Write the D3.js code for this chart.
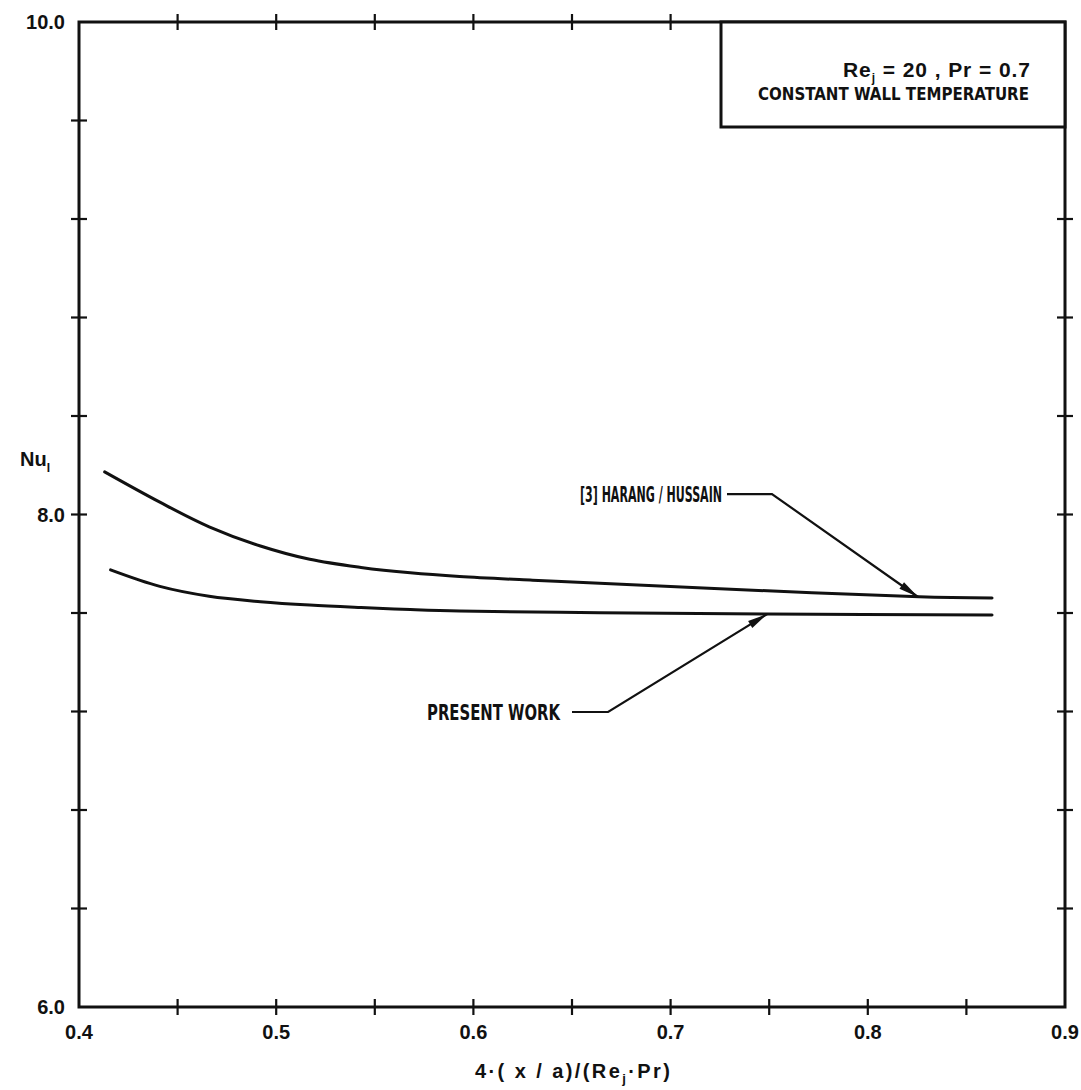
<!DOCTYPE html>
<html>
<head>
<meta charset="utf-8">
<script src="https://cdn.jsdelivr.net/npm/d3@7"></script>
<style>
  body { margin: 0; background: #fff; }
  svg text { font-family: "Liberation Sans", Arial, sans-serif; font-weight: bold; fill: #111; }
  .cond { font-family: "DejaVu Sans Condensed", "Liberation Sans Narrow", sans-serif; }
</style>
</head>
<body>
<svg id="chart"></svg>
<script>
// curve values
const xHarang = [0.413, 0.441, 0.466, 0.492, 0.517, 0.543, 0.568, 0.593, 0.630, 0.664, 0.749, 0.826, 0.863];
const yHarang = [8.173, 8.050, 7.950, 7.872, 7.818, 7.785, 7.763, 7.748, 7.733, 7.721, 7.690, 7.666, 7.661];
const xPresent = [0.416, 0.441, 0.466, 0.492, 0.517, 0.543, 0.568, 0.593, 0.664, 0.749, 0.863];
const yPresent = [7.775, 7.708, 7.668, 7.646, 7.632, 7.622, 7.614, 7.608, 7.601, 7.596, 7.592];
const xTickLabels = [0.4, 0.5, 0.6, 0.7, 0.8, 0.9];
const yTickLabels = [6.0, 8.0, 10.0];

const width = 1081, height = 1090;
const x = d3.scaleLinear().domain([0.4, 0.9]).range([79, 1065]);
const y = d3.scaleLinear().domain([6, 10]).range([1007, 22]);

const svg = d3.select("#chart")
  .attr("width", width)
  .attr("height", height)
  .attr("viewBox", [0, 0, width, height]);

// legend box in the top right corner (covers some ticks)
const boxL = 721, boxB = 127;

const xMinor = d3.range(0.45, 0.9, 0.05).map(v => +v.toFixed(2));
const yMinor = d3.range(6.4, 10, 0.4).map(v => +v.toFixed(1));
const tk = 8;

const ticks = svg.append("g").attr("stroke", "#111").attr("stroke-width", 2.2);
xMinor.forEach(v => {
  ticks.append("line").attr("x1", x(v)).attr("x2", x(v)).attr("y1", y(6) - tk).attr("y2", y(6) + tk);
  if (x(v) < boxL - 5)
    ticks.append("line").attr("x1", x(v)).attr("x2", x(v)).attr("y1", y(10) - tk).attr("y2", y(10) + tk);
});
yMinor.forEach(v => {
  ticks.append("line").attr("y1", y(v)).attr("y2", y(v)).attr("x1", x(0.4) - tk).attr("x2", x(0.4) + tk);
  if (y(v) > boxB + 5)
    ticks.append("line").attr("y1", y(v)).attr("y2", y(v)).attr("x1", x(0.9) - tk).attr("x2", x(0.9) + tk);
});

// frame
svg.append("rect")
  .attr("x", x(0.4)).attr("y", y(10))
  .attr("width", x(0.9) - x(0.4)).attr("height", y(6) - y(10))
  .attr("fill", "none").attr("stroke", "#111").attr("stroke-width", 3);

svg.append("rect")
  .attr("x", boxL).attr("y", y(10))
  .attr("width", x(0.9) - boxL).attr("height", boxB - y(10))
  .attr("fill", "#fff").attr("stroke", "#111").attr("stroke-width", 3);

const t1 = svg.append("text").attr("x", 843).attr("y", 77)
  .attr("font-size", 21).attr("textLength", 187).attr("lengthAdjust", "spacing");
t1.append("tspan").text("Re");
t1.append("tspan").attr("font-size", 12).attr("dy", 5).text("j");
t1.append("tspan").attr("dy", -5).text(" = 20 , Pr = 0.7");

svg.append("text").attr("class", "cond")
  .attr("x", 758).attr("y", 100).attr("font-size", 18)
  .attr("textLength", 271).attr("lengthAdjust", "spacingAndGlyphs")
  .text("CONSTANT  WALL  TEMPERATURE");

// tick labels
svg.append("g").selectAll("text").data(xTickLabels).join("text")
  .attr("x", d => x(d)).attr("y", 1039).attr("text-anchor", "middle")
  .attr("font-size", 20).text(d => d.toFixed(1));

svg.append("g").selectAll("text").data(yTickLabels).join("text")
  .attr("x", 65).attr("y", d => y(d) + 7).attr("text-anchor", "end")
  .attr("font-size", 20).text(d => d.toFixed(1));

// axis titles
const xt = svg.append("text").attr("x", 475).attr("y", 1078)
  .attr("font-size", 20).attr("textLength", 195).attr("lengthAdjust", "spacing");
xt.append("tspan").text("4\u00b7( x / a)/(Re");
xt.append("tspan").attr("font-size", 13).attr("dy", 5).text("j");
xt.append("tspan").attr("dy", -5).text("\u00b7Pr)");

const yt = svg.append("text").attr("x", 20).attr("y", 466).attr("font-size", 20);
yt.append("tspan").text("Nu");
yt.append("tspan").attr("font-size", 12).attr("dy", 6).text("I");

// curves
const line = d3.line().x(d => x(d[0])).y(d => y(d[1])).curve(d3.curveCatmullRom);
const series = [d3.zip(xHarang, yHarang), d3.zip(xPresent, yPresent)];
svg.append("g").selectAll("path").data(series).join("path")
  .attr("d", line)
  .attr("fill", "none").attr("stroke", "#111").attr("stroke-width", 3)
  .attr("stroke-linecap", "round");

// leader lines with arrowheads
const notes = [
  { label: "[3] HARANG / HUSSAIN", tx: 580, tlen: 142, pts: [[0.7286, 8.083], [0.7514, 8.083], [0.8255, 7.665]] },
  { label: "PRESENT  WORK", tx: 427, tlen: 133, pts: [[0.6500, 7.198], [0.6683, 7.198], [0.7490, 7.596]] }
];
notes.forEach(n => {
  const p = n.pts.map(d => [x(d[0]), y(d[1])]);
  svg.append("text").attr("class", "cond")
    .attr("x", n.tx).attr("y", p[0][1] + 8).attr("font-size", 21)
    .attr("textLength", n.tlen).attr("lengthAdjust", "spacingAndGlyphs")
    .text(n.label);
  svg.append("path").attr("d", d3.line()(p))
    .attr("fill", "none").attr("stroke", "#111").attr("stroke-width", 2.2);
  const [a, b] = [p[1], p[2]];
  const ang = Math.atan2(b[1] - a[1], b[0] - a[0]);
  const L = 20, W = 4;
  const base = [b[0] - L * Math.cos(ang), b[1] - L * Math.sin(ang)];
  const head = [
    b,
    [base[0] + W * Math.sin(ang), base[1] - W * Math.cos(ang)],
    [base[0] - W * Math.sin(ang), base[1] + W * Math.cos(ang)]
  ];
  svg.append("path").attr("d", d3.line()(head) + "Z").attr("fill", "#111");
});
</script>
</body>
</html>
